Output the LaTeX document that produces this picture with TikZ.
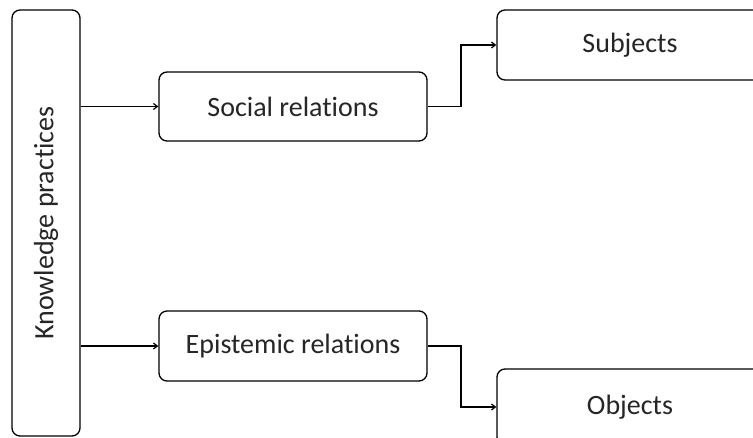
\documentclass[tikz,border=0pt]{standalone}
\usepackage{fontspec}
\setmainfont{Carlito}[Ligatures=NoCommon]
\usetikzlibrary{arrows.meta}
\definecolor{ink}{HTML}{262626}
\tikzset{
  box/.style={draw=black, line width=1.3pt, rounded corners=8pt, inner sep=0pt,
    text=ink, font=\fontsize{28}{32}\selectfont},
  link/.style={draw=black, line width=1.2pt, -{Straight Barb[length=4pt,width=6pt]}}
}
\begin{document}
\begin{tikzpicture}[x={(1pt,0)}, y={(0,-1pt)}]
  \useasboundingbox (0,0) rectangle (753,437);
  \clip (0,0) rectangle (753,437);
  \fill[white] (0,0) rectangle (753,437);

  % left column
  \node[box, minimum width=68pt, minimum height=426pt] (kp) at (46,223)
    {\rotatebox{90}{Knowledge practices}};

  % middle column
  \node[box, minimum width=268pt, minimum height=69pt] (soc) at (293,106.5) {Social relations};
  \node[box, minimum width=268pt, minimum height=70pt] (epi) at (293,346) {Epistemic relations};

  % right column (runs past the page edge)
  \node[box, minimum width=266pt, minimum height=70pt] (subj) at (630,45) {Subjects};
  \node[box, minimum width=266pt, minimum height=76pt] (obj) at (630,407) {Objects};

  % connectors
  \draw[link] (soc.west -| kp.east) -- (soc.west);
  \draw[link] (epi.west -| kp.east) -- (epi.west);
  \draw[link] (soc.east) -- (461,106.5) |- (subj.west);
  \draw[link] (epi.east) -- (461,346) |- (obj.west);
\end{tikzpicture}
\end{document}
